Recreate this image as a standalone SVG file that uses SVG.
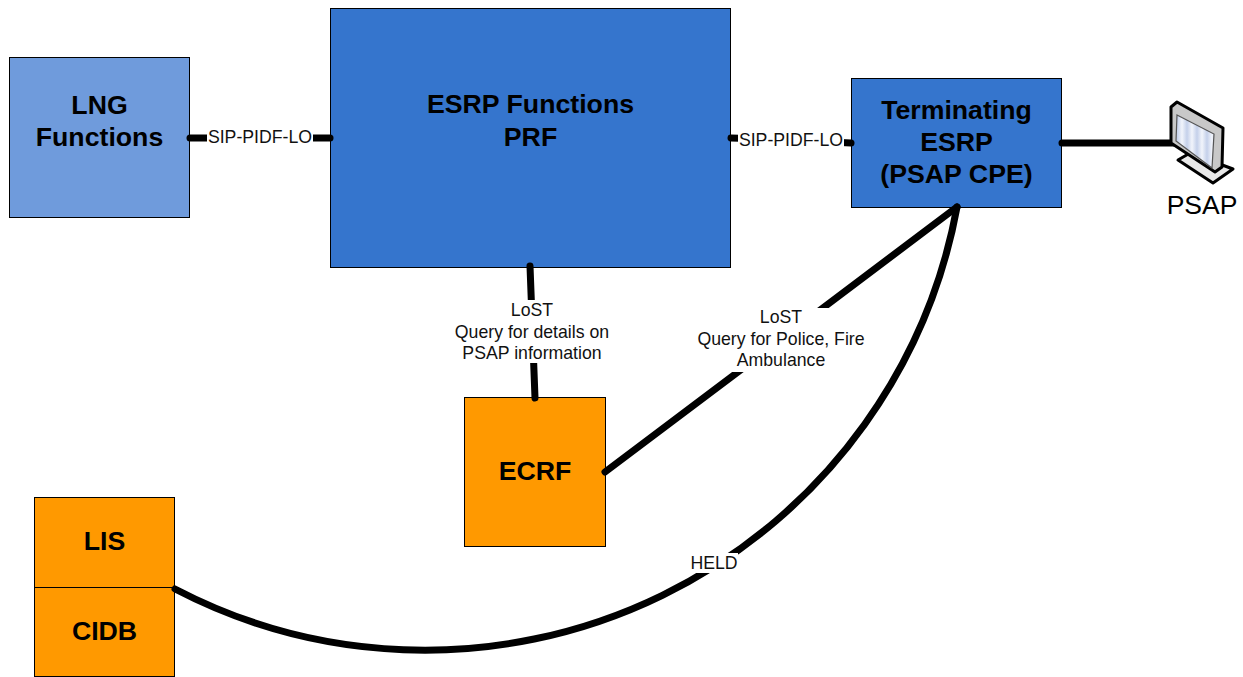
<svg xmlns="http://www.w3.org/2000/svg" width="1243" height="677" viewBox="0 0 1243 677">
<style>
text{font-family:"Liberation Sans",Arial,sans-serif;text-anchor:middle;fill:#000}
.b{font-weight:bold;font-size:26.700px}
.l{font-size:17.700px;fill:#111}
.box{stroke:#000;stroke-width:1}
.c{fill:none;stroke:#000;stroke-width:7;stroke-linecap:round}
.lb{fill:#fff}
</style>
<defs>
<linearGradient id="scr" gradientUnits="userSpaceOnUse" x1="1177" y1="0" x2="1187" y2="0" spreadMethod="repeat"><stop offset="0" stop-color="#c4d0ea"/><stop offset=".5" stop-color="#f1f4fb"/><stop offset="1" stop-color="#c4d0ea"/></linearGradient>
</defs>
<rect width="1243" height="677" fill="#fff"/>
<g id="lng"><rect class="box" x="9.500" y="57.500" width="180" height="160" fill="#6f9bdc"/><text class="b" x="99.500" y="114">LNG</text><text class="b" x="99.500" y="146">Functions</text></g>
<g id="esrp"><rect class="box" x="330.500" y="8.500" width="400" height="259" fill="#3575cd"/><text class="b" x="530.500" y="113">ESRP Functions</text><text class="b" x="530.500" y="146">PRF</text></g>
<g id="term"><rect class="box" x="851.500" y="78.500" width="210" height="129" fill="#3575cd"/><text class="b" x="956.500" y="119">Terminating</text><text class="b" x="956.500" y="151">ESRP</text><text class="b" x="956.500" y="183">(PSAP CPE)</text></g>
<g id="ecrf"><rect class="box" x="464.500" y="397.500" width="141" height="149" fill="#ff9900"/><text class="b" x="535" y="480">ECRF</text></g>
<g id="lis"><rect class="box" x="34.500" y="497.500" width="140" height="90" fill="#ff9900"/><text class="b" x="104.500" y="550">LIS</text></g>
<g id="cidb"><rect class="box" x="34.500" y="587.500" width="140" height="89" fill="#ff9900"/><text class="b" x="104.500" y="640">CIDB</text></g>
<g id="connectors">
<path class="c" d="M190 138H330"/>
<path class="c" d="M731 138L790 140L851 143"/>
<path class="c" d="M1062 143H1178"/>
<path class="c" d="M530 266L535 398"/>
<path class="c" d="M605 472L957 207"/>
<path class="c" d="M175 589A541 541 0 0 0 957 207"/>
</g>
<g id="psap">
<path d="M1178 160L1190 153L1233 169L1213 183Z" fill="#e8e8e8" stroke="#000" stroke-width="3" stroke-linejoin="round"/>
<path d="M1171 107L1177 102L1223 128L1222 167L1215 172L1171 143Z" fill="#c8c8c8" stroke="#000" stroke-width="3" stroke-linejoin="round"/>
<path d="M1177 115L1214 134L1212 168L1176 141Z" fill="url(#scr)" stroke="#555" stroke-width="1.200"/>
<text x="1202" y="214" font-size="26.500" fill="#222">PSAP</text>
</g>
<g id="labels">
<rect class="lb" x="207" y="128" width="106" height="20"/><text class="l" x="260" y="143">SIP-PIDF-LO</text>
<rect class="lb" x="738" y="130" width="106" height="18"/><text class="l" x="791" y="146">SIP-PIDF-LO</text>
<rect class="lb" x="454" y="300" width="156" height="63"/><text class="l" x="532" y="316">LoST</text><text class="l" x="532" y="338">Query for details on</text><text class="l" x="532" y="359">PSAP information</text>
<rect class="lb" x="696" y="308" width="170" height="64"/><text class="l" x="781" y="323">LoST</text><text class="l" x="781" y="345">Query for Police, Fire</text><text class="l" x="781" y="366">Ambulance</text>
<rect class="lb" x="690" y="553" width="48" height="20"/><text class="l" x="714" y="569">HELD</text>
</g>
</svg>
